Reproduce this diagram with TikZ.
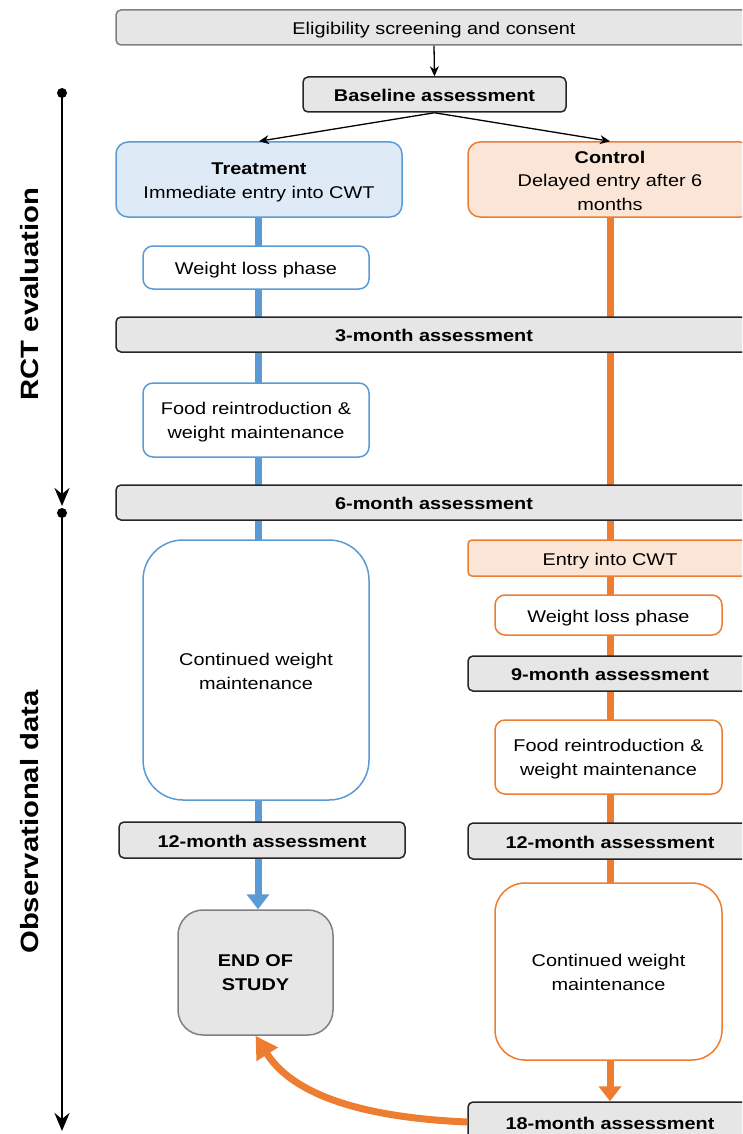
\documentclass[tikz,border=0pt]{standalone}
\usepackage{fontspec}
\setmainfont{Liberation Sans}[FakeStretch=1.17]
\usetikzlibrary{arrows.meta,backgrounds}
\definecolor{bfill}{HTML}{DEEBF7}
\definecolor{bline}{HTML}{5B9BD5}
\definecolor{ofill}{HTML}{FBE5D6}
\definecolor{oline}{HTML}{ED7D31}
\definecolor{gfill}{HTML}{E7E6E6}
\definecolor{gline}{HTML}{808080}
\definecolor{dline}{HTML}{262626}
\begin{document}
\begin{tikzpicture}[x=1pt,y=-1pt,
  font=\fontsize{17}{23.5}\selectfont,
  sz/.style 2 args={minimum width=#1pt, minimum height=#2pt},
  base/.style={rectangle, align=center, inner sep=0pt, line width=1.5pt},
  one/.style={text height=14.4pt, text depth=0pt},
  multi/.style 2 args={label={[align=center, yshift=#2pt, font=\fontsize{17}{23.5}\selectfont]center:{#1}}},
  assess/.style={base, one, draw=dline, fill=gfill, rounded corners=5pt, font=\bfseries\fontsize{17}{23.5}\selectfont},
  grey/.style={base, draw=gline, fill=gfill, rounded corners=5pt},
  bbox/.style={base, draw=bline, fill=white, rounded corners=10pt},
  obox/.style={base, draw=oline, fill=white, rounded corners=10pt},
  thin/.style={line width=1.3pt, -{Stealth[length=10pt,width=9pt]}},
  bthick/.style={line width=7pt, draw=bline},
  othick/.style={line width=7pt, draw=oline},
  axis/.style={line width=2.7pt, -{Stealth[length=18pt,width=15pt,inset=6pt]}},
  axlabel/.style={rotate=90, font=\bfseries\fontsize{25}{30}\selectfont}
]
\useasboundingbox (0,0) rectangle (742,1134);
\clip (0,0) rectangle (742,1134);

% top
\node[grey, one, sz={636}{35}] (elig) at (434,27.5) {Eligibility screening and consent};
\node[assess, sz={263}{35}] (bl) at (434.5,94.5) {Baseline assessment};
\node[base, draw=bline, fill=bfill, rounded corners=12pt, sz={286}{75},
  multi={\textbf{Treatment}\\Immediate entry into CWT}{-3}] (treat) at (259,179.5) {};
\node[base, draw=oline, fill=ofill, rounded corners=12pt, sz={284}{75},
  multi={\textbf{Control}\\Delayed entry after 6\\months}{-1}] (ctrl) at (610,179.5) {};

% treatment arm
\node[bbox, one, sz={226}{43}] (wl1) at (256,267.5) {Weight loss phase};
\node[assess, sz={636}{35}] (m3) at (434,334.5) {3-month assessment};
\node[bbox, sz={226}{74}, multi={Food reintroduction \&\\weight maintenance}{-2}] (fr1) at (256,420) {};
\node[assess, sz={636}{35}] (m6) at (434,502.5) {6-month assessment};
\node[bbox, rounded corners=40pt, sz={226}{260}, multi={Continued weight\\maintenance}{-1.5}] (cw1) at (256,670) {};
\node[assess, sz={286}{36}] (m12a) at (262,840) {12-month assessment};
\node[grey, rounded corners=25pt, sz={155}{125},
  multi={\bfseries END OF\\\bfseries STUDY}{0}] (eos) at (255.5,972.5) {};

% control arm
\node[base, one, draw=oline, fill=ofill, rounded corners=4pt, sz={284}{36}] (entry) at (610,558) {Entry into CWT};
\node[obox, one, sz={227}{40}] (wl2) at (608.5,615) {Weight loss phase};
\node[assess, sz={284}{35}] (m9) at (610,673.5) {9-month assessment};
\node[obox, sz={227}{74}, multi={Food reintroduction \&\\weight maintenance}{-2}] (fr2) at (608.5,757) {};
\node[assess, sz={284}{36}] (m12b) at (610,841) {12-month assessment};
\node[obox, rounded corners=30pt, sz={227}{177}, multi={Continued weight\\maintenance}{-1}] (cw2) at (608.5,971.5) {};
\node[assess, sz={284}{40}] (m18) at (610,1122) {18-month assessment};

% axis labels
\node[axlabel] (rct) at (30,294) {RCT evaluation};
\node[axlabel] (obs) at (30,822) {Observational data};
\coordinate (ax0) at (62,93);
\coordinate (ax1) at (62,513);
\coordinate (ax1e) at (62,506);
\coordinate (ax2) at (62,1131);

\begin{scope}[on background layer]
  \draw[bthick] (treat.south -| 258,0) -- (258,822);
  \draw[othick] (ctrl.south -| 610,0) -- (610,1062);
\end{scope}

\draw[thin] (elig.south) -- (bl.north);
\draw[thin] (bl.south) -- (treat.north);
\draw[thin] (bl.south) -- (ctrl.north);

\draw[bline, line width=7pt, -{Triangle[length=15pt,width=22pt]}] (m12a.south -| 258,0) -- (eos.north -| 258,0);
\draw[oline, line width=7pt, -{Triangle[length=15pt,width=22pt]}] (cw2.south -| 610,0) -- (m18.north -| 610,0);
\draw[oline, line width=7pt, -{Triangle[length=22pt,width=24pt]}] (m18.west) .. controls (350,1117) and (290,1090) .. (eos.south);

% axis
\draw[axis] (ax0) -- (ax1e);
\draw[axis] (ax1) -- (ax2);
\fill (ax0) circle (5);
\fill (ax1) circle (5);
\end{tikzpicture}
\end{document}
